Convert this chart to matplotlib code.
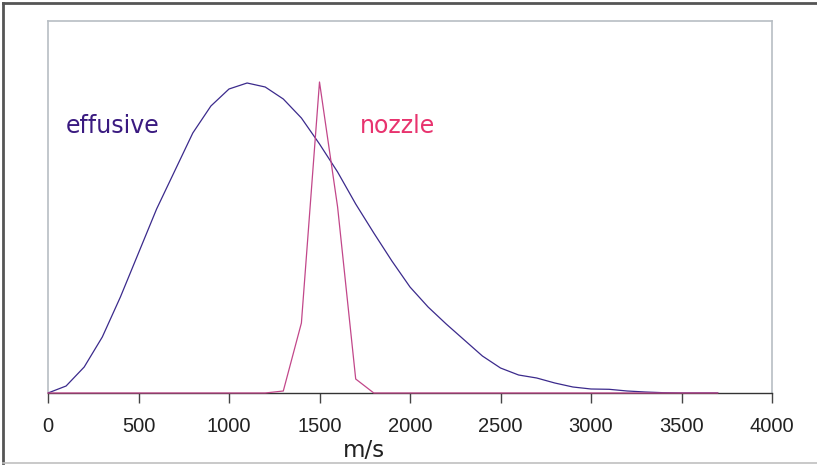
import matplotlib.pyplot as plt
from matplotlib.lines import Line2D

# speed axis (m/s), one sample every 100 m/s
speed = list(range(0, 3800, 100))

# effusive source: broad Maxwell-like distribution (arbitrary units)
effusive = [0, 7, 26, 56, 96, 140, 184, 222, 260, 287,
            304, 310, 306, 294, 275, 249, 221, 189, 160, 132,
            106, 86, 69, 53, 37, 25, 18, 15, 10, 6,
            4, 3.7, 2, 1, 0.3, 0, 0, 0]

# supersonic nozzle: narrow peak around 1500 m/s
nozzle = [0, 0, 0, 0, 0, 0, 0, 0, 0, 0,
          0, 0, 0, 2, 70, 311, 186, 14, 0, 0,
          0, 0, 0, 0, 0, 0, 0, 0, 0, 0,
          0, 0, 0, 0, 0, 0, 0, 0]

xticks = [0, 500, 1000, 1500, 2000, 2500, 3000, 3500, 4000]

W, H = 817, 465
fig = plt.figure(figsize=(W / 100, H / 100), dpi=100)
ax = fig.add_axes([48 / W, (H - 393) / H, 724 / W, (393 - 21.5) / H])

ax.plot(speed, effusive, color='#3b2a8c', lw=0.9, zorder=3)
ax.plot(speed, nozzle, color='#c2478a', lw=0.9, zorder=4, clip_on=False)

ax.set_xlim(0, 4000)
ax.set_ylim(0, 371.5)
ax.set_xticks(xticks)
ax.set_xticklabels([str(t) for t in xticks], fontsize=14.5,
                   family='Liberation Sans', color='#222222')
ax.set_yticks([])
ax.tick_params(axis='x', direction='out', length=7, width=1,
               color='#444444', pad=10)

for side in ('left', 'top', 'right'):
    ax.spines[side].set_color('#b8bec4')
    ax.spines[side].set_linewidth(1.2)
ax.spines['bottom'].set_color('#333333')
ax.spines['bottom'].set_linewidth(1)

ax.text(0.024, 0.72, 'effusive', transform=ax.transAxes, fontsize=17,
        color='#3a1a80', va='center', ha='left', family='DejaVu Sans')
ax.text(0.431, 0.72, 'nozzle', transform=ax.transAxes, fontsize=17,
        color='#e8336e', va='center', ha='left', family='DejaVu Sans')

fig.text(364 / W, 1 - 450 / H, 'm/s', fontsize=16.5, color='#222222',
         ha='center', va='center', family='DejaVu Sans')

# frame around the whole figure
fig.add_artist(Line2D([3.5 / W, 3.5 / W], [1 - 3.5 / H, 1 - 463 / H],
                      transform=fig.transFigure, color='#555555', lw=2))
fig.add_artist(Line2D([3.5 / W, 1], [1 - 3.5 / H, 1 - 3.5 / H],
                      transform=fig.transFigure, color='#555555', lw=2))
fig.add_artist(Line2D([3.5 / W, 1], [1 - 463 / H, 1 - 463 / H],
                      transform=fig.transFigure, color='#c0c0c0', lw=1.2))

fig.savefig('out.png', dpi=100)
